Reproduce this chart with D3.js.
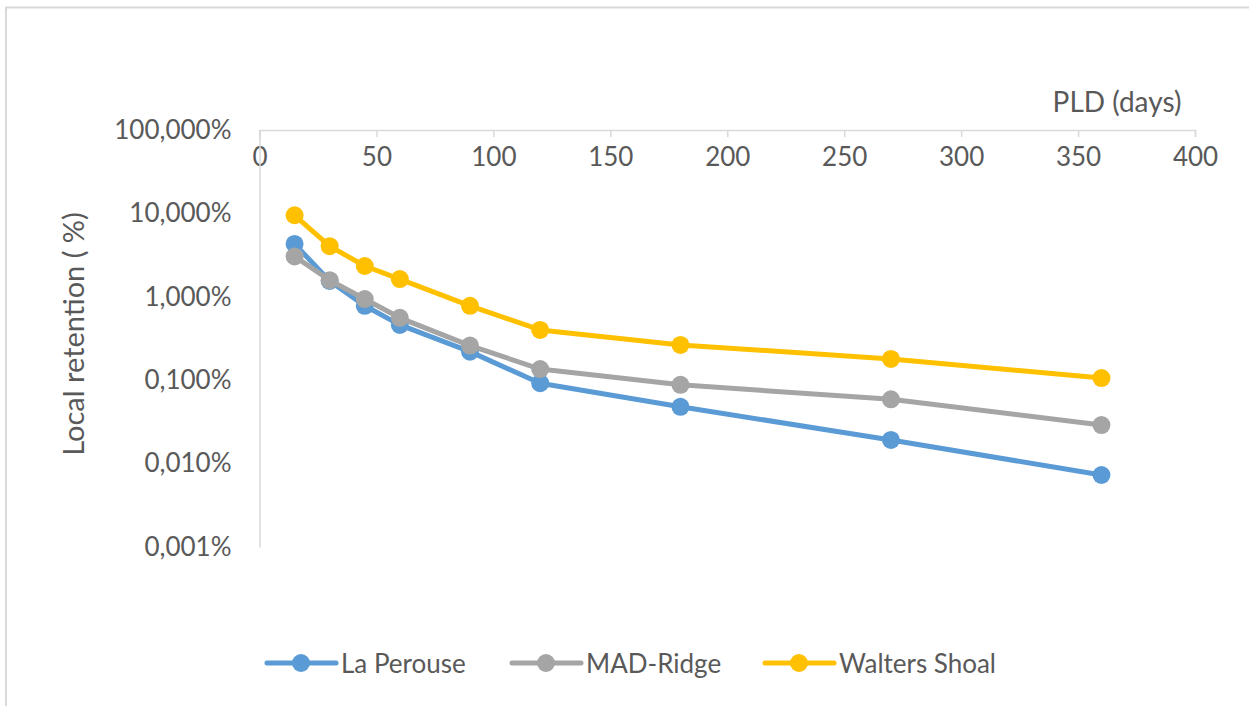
<!DOCTYPE html>
<html>
<head>
<meta charset="utf-8">
<script src="https://cdn.jsdelivr.net/npm/d3@7"></script>
<style>
  body { margin: 0; background: #fff; }
  text { font-family: Lato, "Open Sans", sans-serif; fill: #595959; }
</style>
</head>
<body>
<svg id="chart" width="1249" height="706"></svg>
<script>
// PLD in days
const pld = [15, 30, 45, 60, 90, 120, 180, 270, 360];
// local retention, percent
const laPerouse = [4.3, 1.55, 0.78, 0.46, 0.22, 0.092, 0.048, 0.0192, 0.0073];
const madRidge = [3.05, 1.58, 0.94, 0.56, 0.26, 0.136, 0.088, 0.059, 0.029];
const waltersShoal = [9.5, 4.05, 2.34, 1.63, 0.78, 0.40, 0.265, 0.18, 0.106];
const seriesNames = ['La Perouse', 'MAD-Ridge', 'Walters Shoal'];
const colors = ['#5b9bd5', '#a5a5a5', '#ffc000'];
const xTicks = [0, 50, 100, 150, 200, 250, 300, 350, 400];
const yTicks = [100, 10, 1, 0.1, 0.01, 0.001];
const yLabels = ['100,000%', '10,000%', '1,000%', '0,100%', '0,010%', '0,001%'];

const series = [laPerouse, madRidge, waltersShoal].map((vals, i) => ({
  name: seriesNames[i], color: colors[i],
  points: pld.map((d, j) => ({x: d, y: vals[j]}))
}));

const svg = d3.select('#chart');

// outer frame
svg.append('rect')
  .attr('x', 6).attr('y', 7.5).attr('width', 1260).attr('height', 720)
  .attr('fill', 'none').attr('stroke', '#d9d9d9').attr('stroke-width', 2);

const plotLeft = 259.5, plotRight = 1195, plotTop = 130, plotBottom = 547;

const x = d3.scaleLinear().domain([0, 400]).range([plotLeft, plotRight]);
const y = d3.scaleLog().domain([0.001, 100]).range([plotBottom, plotTop]);

// x axis at the top, ticks pointing down, labels below
const xAxis = svg.append('g')
  .attr('transform', `translate(0,${plotTop})`)
  .call(d3.axisBottom(x).tickValues(xTicks).tickSize(7).tickPadding(11).tickFormat(d3.format('d')));
xAxis.select('.domain').attr('stroke', '#d9d9d9').attr('stroke-width', 1.5);
xAxis.selectAll('.tick line').attr('stroke', '#d9d9d9').attr('stroke-width', 1.5);
xAxis.selectAll('.tick text').attr('font-size', 26).attr('fill', '#595959')
  .style('font-family', 'Lato, sans-serif');

// y axis
const yAxis = svg.append('g')
  .attr('transform', `translate(${plotLeft},0)`)
  .call(d3.axisLeft(y).tickValues(yTicks).tickSize(0).tickPadding(28)
    .tickFormat((d, i) => yLabels[i]));
yAxis.select('.domain').attr('stroke', '#d9d9d9').attr('stroke-width', 1.5);
yAxis.selectAll('.tick text').attr('font-size', 26).attr('fill', '#595959')
  .style('font-family', 'Lato, sans-serif');

// axis titles
svg.append('text')
  .attr('x', 1117).attr('y', 112)
  .attr('text-anchor', 'middle').attr('font-size', 28)
  .text('PLD (days)');

svg.append('text')
  .attr('transform', 'translate(84,334) rotate(-90)')
  .attr('text-anchor', 'middle').attr('font-size', 29)
  .text('Local retention ( %)');

const line = d3.line().x(d => x(d.x)).y(d => y(d.y));

const g = svg.append('g');
series.forEach(s => {
  g.append('path')
    .datum(s.points)
    .attr('d', line)
    .attr('fill', 'none')
    .attr('stroke', s.color)
    .attr('stroke-width', 5)
    .attr('stroke-linejoin', 'round');
  g.selectAll(null)
    .data(s.points)
    .enter()
    .append('circle')
    .attr('cx', d => x(d.x))
    .attr('cy', d => y(d.y))
    .attr('r', 9)
    .attr('fill', s.color);
});

// legend
const legendX = [267, 512, 765];
const legend = svg.append('g');
series.forEach((s, i) => {
  const lx = legendX[i];
  legend.append('line')
    .attr('x1', lx).attr('x2', lx + 69).attr('y1', 663).attr('y2', 663)
    .attr('stroke', s.color).attr('stroke-width', 5)
    .attr('stroke-linecap', 'round');
  legend.append('circle')
    .attr('cx', lx + 34).attr('cy', 663).attr('r', 9).attr('fill', s.color);
  legend.append('text')
    .attr('x', lx + 74).attr('y', 673)
    .attr('font-size', 26)
    .text(s.name);
});
</script>
</body>
</html>
